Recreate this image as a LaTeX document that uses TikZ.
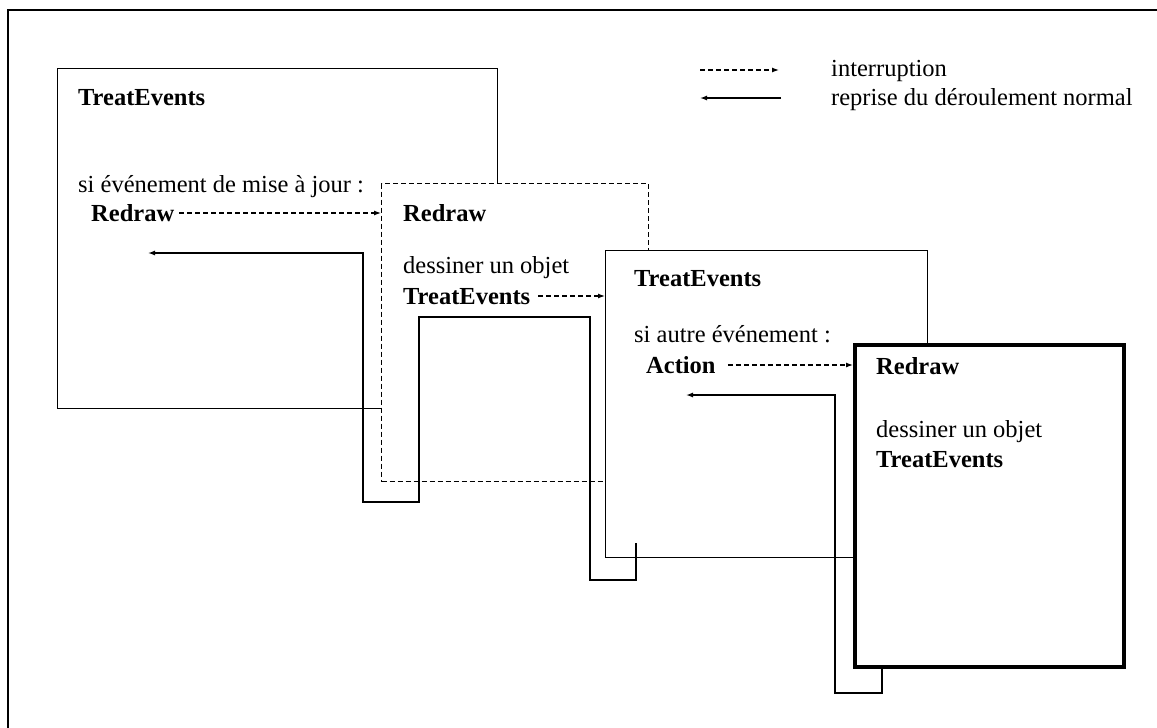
\documentclass[tikz,border=0pt]{standalone}
\usepackage{fontspec}
\setmainfont{Liberation Serif}
\usetikzlibrary{arrows.meta}

\tikzset{
	box/.style={draw, line width=1.4pt, fill=white, inner sep=0pt, anchor=north west},
	txt/.style={anchor=base west, inner sep=0pt, font=\fontsize{24.5}{30}\selectfont},
	bold/.style={txt, font=\fontsize{24.5}{30}\selectfont\bfseries},
	intr/.style={-{Latex[length=7pt,width=5pt]}, line width=1.2pt, dash pattern=on 5pt off 3pt},
	back/.style={-{Latex[length=7pt,width=5pt]}, line width=1.3pt},
}

\begin{document}
\begin{tikzpicture}[x=1pt, y=-1pt]
		      \useasboundingbox (0,0) rectangle (1157,728);
		      \draw[line width=1.8pt] (8,728) -- (8,10) -- (1157,10);

		      \coordinate (l1) at (700,70);
		      \coordinate (l2) at (779,70);
		      \coordinate (l3) at (781,98);
		      \coordinate (l4) at (700,98);
		      \draw[intr] (l1) -- (l2);
		      \draw[back] (l3) -- (l4);
		      \node[txt] (lg1) at (831,76) {interruption};
		      \node[txt] (lg2) at (831,105) {reprise du déroulement normal};

		      \node[box, minimum width=440pt, minimum height=340pt] (b1) at (57,68) {};
		      \node[bold] (te1) at (78,105) {TreatEvents};
		      \node[txt] (si1) at (78,192) {si événement de mise à jour :};
		      \node[bold] (rd1) at (91,221) {Redraw};

		      \node[box, dash pattern=on 5pt off 3pt, minimum width=267pt, minimum height=298pt] (b2) at (381,183) {};
		      \node[bold] (rd2) at (403,221) {Redraw};
		      \node[txt] (ds2) at (403,273) {dessiner un objet};
		      \node[bold] (te2) at (403,304) {TreatEvents};

		      \node[box, minimum width=322pt, minimum height=307pt] (b3) at (605,250) {};
		      \node[bold] (te3) at (634,286) {TreatEvents};
		      \node[txt] (si3) at (634,342) {si autre événement :};
		      \node[bold] (ac3) at (646,373) {Action};

		      \node[box, line width=3.8pt, minimum width=269pt, minimum height=322pt] (b4) at (853,343) {};
		      \node[bold] (rd4) at (876,374) {Redraw};
		      \node[txt] (ds4) at (876,437) {dessiner un objet};
		      \node[bold] (te4) at (876,467) {TreatEvents};

		      \coordinate (i1) at ([shift={(5pt,8pt)}]rd1.base east);
		      \coordinate (i2) at ([shift={(8pt,8pt)}]te2.base east);
		      \coordinate (i3) at ([shift={(12pt,8pt)}]ac3.base east);
		      \draw[intr] (i1) -- (b2.west |- i1);
		      \draw[intr] (i2) -- (b3.west |- i2);
		      \draw[intr] (i3) -- (b4.west |- i3);

		      \coordinate (s3) at (636,543);
		      \coordinate (e1) at (148,253);
		      \coordinate (e3) at (686,395);
		      \draw[back] (s3) -- (636,580) -- (590,580) -- (590,317) -- (419,317) -- (419,502) -- (363,502) -- (363,253) -- (e1);
		      \draw[back] ([xshift=29pt]b4.south west) -- (882,693) -- (835,693) -- (835,395) -- (e3);
	      \end{tikzpicture}
\end{document}
